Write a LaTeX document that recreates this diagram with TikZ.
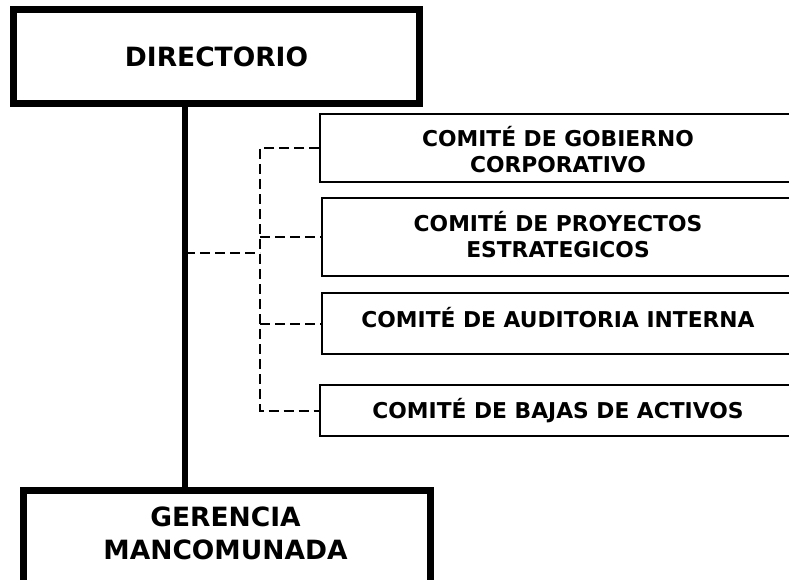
\documentclass[tikz,border=0pt]{standalone}
\usepackage{fontspec}
\setmainfont{DejaVu Sans}
\begin{document}
\begin{tikzpicture}[x=1pt,y=-1pt,
  bigbox/.style={draw=black,line width=7pt,fill=white,inner sep=0pt},
  combox/.style={draw=black,line width=2pt,fill=white,inner sep=0pt},
  bigtext/.style={inner sep=0pt,align=center,font=\fontsize{26.5}{33}\selectfont\bfseries},
  comtext/.style={inner sep=0pt,align=center,font=\fontsize{21.8}{26}\selectfont\bfseries},
  trunk/.style={line width=6pt},
  dashlink/.style={line width=2pt,dash pattern=on 10pt off 5pt}]
\useasboundingbox (0,0) rectangle (789,580);
\clip (0,0) rectangle (789,580);
\fill[white] (0,0) rectangle (789,580);

% main boxes
\node[bigbox,minimum width=406pt,minimum height=94pt] (dir) at (216.5,56.5) {};
\node[bigtext] (dirt) at (216.5,57) {DIRECTORIO};
\node[bigbox,minimum width=407pt,minimum height=200pt,anchor=north] (ger) at (226.5,487) {};
\node[bigtext] (gert) at (225.5,533) {GERENCIA\\MANCOMUNADA};

% trunk
\draw[trunk] (dir.south -| 185,0) -- (ger.north -| 185,0);
\coordinate (tx) at (185,253);
\coordinate (j) at (260,253);

% committee boxes
\node[combox,minimum width=479pt,minimum height=68pt,anchor=west] (c1) at (319,148) {};
\node[combox,minimum width=477pt,minimum height=78pt,anchor=west] (c2) at (321,237) {};
\node[combox,minimum width=477pt,minimum height=61pt,anchor=west] (c3) at (321,323.5) {};
\node[combox,minimum width=479pt,minimum height=51pt,anchor=west] (c4) at (319,410.5) {};

\node[comtext] (c1t) at (558,150) {COMITÉ DE GOBIERNO\\CORPORATIVO};
\node[comtext] (c2t) at (558,235) {COMITÉ DE PROYECTOS\\ESTRATEGICOS};
\node[comtext] (c3t) at (558,318) {COMITÉ DE AUDITORIA INTERNA};
\node[comtext] (c4t) at (558,411) {COMITÉ DE BAJAS DE ACTIVOS};

% dashed connectors
\draw[dashlink] (tx) -- (j);
\draw[dashlink] (c1.west) -- (c1.west -| j) -- (c4.west -| j) -- (c4.west);
\draw[dashlink] (c2.west -| j) -- (c2.west);
\draw[dashlink] (c3.west -| j) -- (c3.west);
\end{tikzpicture}
\end{document}
